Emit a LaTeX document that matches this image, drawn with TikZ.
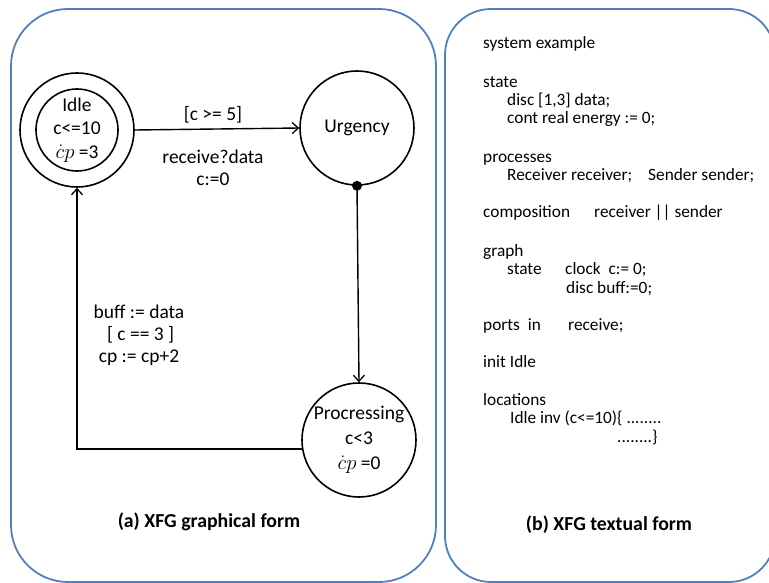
\documentclass[tikz,border=0pt]{standalone}
\usepackage{fontspec}
\setmainfont{Carlito}
\usepackage{amsmath}
\usetikzlibrary{arrows.meta}
\definecolor{frame}{HTML}{4F81BD}
\definecolor{ink}{HTML}{000000}
\tikzset{
  panel/.style={draw=frame, line width=1.8pt},
  loc/.style={circle, draw=ink, line width=1.6pt, inner sep=0pt, align=center, font=\fontsize{19.5}{23}\selectfont},
  trans/.style={draw=ink, line width=1.4pt, -{Straight Barb[length=6pt,width=11pt,line width=1.3pt]}},
  lab/.style={font=\fontsize{19.5}{22}\selectfont, align=center, inner sep=0pt},
  code/.style={font=\fontsize{17.3}{20}\selectfont, anchor=base west, inner sep=0pt},
  captext/.style={font=\fontsize{19.8}{24}\selectfont\bfseries, inner sep=0pt}
}
\begin{document}
\begin{tikzpicture}[x=1pt,y=-1pt]
  \useasboundingbox (0,0) rectangle (769,583);
  \begin{scope}
    \clip (0,0) rectangle (769,583);
    \draw[panel, rounded corners=57pt] (11,9) rectangle (436,582);
    \draw[panel, rounded corners=46pt] (445,9) rectangle (775,582);
  \end{scope}

  % graphical form
  \node[loc, minimum size=82pt] (idle) at (77,130) {Idle\\c<=10\\[1pt]$\dot{c}p$~=3};
  \node[loc, minimum size=114pt] (idleout) at (77,130) {};
  \node[loc, minimum size=114pt] (urg) at (357,128) {Urgency};
  \node[loc, minimum size=114pt] (proc) at (359,440) {Procressing\\[2pt]c<3\\[2pt]$\dot{c}p$~=0};

  \draw[trans] (idleout.east) -- (urg.west);
  \node[lab] (g1) at (213,115) {[c >= 5]};
  \node[lab] (a1) at (213,168) {receive?data\\c:=0};

  \fill[ink] (urg.south) circle (5pt);
  \draw[trans] (urg.south) -- (proc.north);

  \draw[trans] (proc.189) -| (idleout.south);
  \node[lab] (a2) at (139,335) {buff := data\\\,[ c == 3 ]\\cp := cp+2};

  \node[captext] (capa) at (209,522) {(a) XFG graphical form};

  % textual form
  \node[code] at (483,49) {system example};
  \node[code] at (483,88) {state};
  \node[code] at (507,106) {disc [1,3] data;};
  \node[code] at (507,124) {cont real energy := 0;};
  \node[code] at (483,163) {processes};
  \node[code] at (507,181) {Receiver receiver;};
  \node[code] at (648,181) {Sender sender;};
  \node[code] at (483,218) {composition};
  \node[code] at (594,218) {receiver || sender};
  \node[code] at (483,256) {graph};
  \node[code] at (507,274) {state};
  \node[code] at (565,274) {clock\ \ c:= 0;};
  \node[code] at (566,293) {disc buff:=0;};
  \node[code] at (483,330) {ports\ \ in};
  \node[code] at (568,330) {receive;};
  \node[code] at (483,367) {init Idle};
  \node[code] at (483,405) {locations};
  \node[code] at (510,423) {Idle inv (c<=10)\{ ........};
  \node[code] at (617,442) {........\}};

  \node[captext] (capb) at (609,525) {(b) XFG textual form};
\end{tikzpicture}
\end{document}
